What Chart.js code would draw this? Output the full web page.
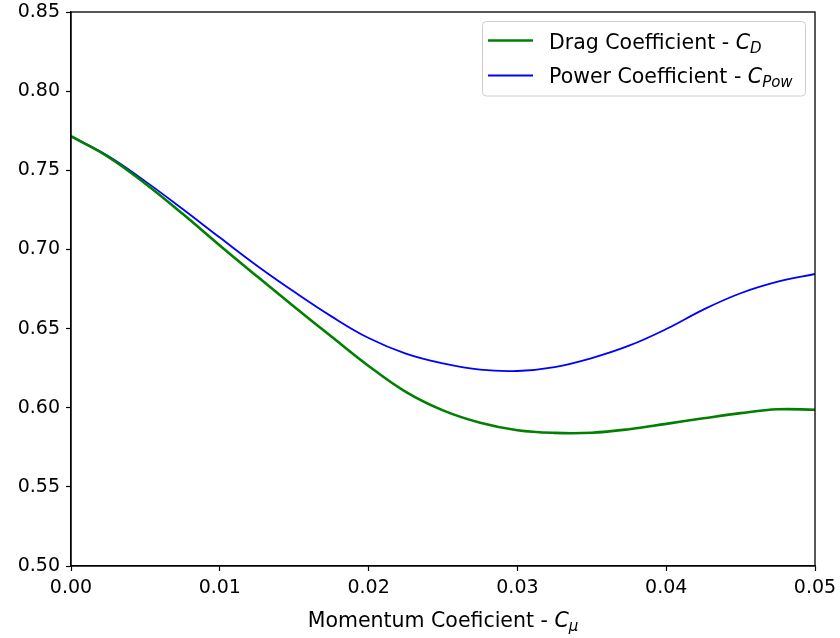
<!DOCTYPE html>
<html>
<head>
<meta charset="utf-8">
<script src="https://cdn.jsdelivr.net/npm/chart.js@4"></script>
<style>
  html, body { margin: 0; padding: 0; background: #fff; }
  #wrap { width: 840px; height: 638px; }
</style>
</head>
<body>
<div id="wrap"><canvas id="chart" width="840" height="638"></canvas></div>
<script>
// momentum coefficient samples
const cmu = [0, 0.0025, 0.005, 0.0075, 0.01, 0.0125, 0.015, 0.0175, 0.02, 0.0225,
	0.025, 0.0275, 0.03, 0.0325, 0.035, 0.0375, 0.04, 0.0425, 0.045, 0.0475, 0.05];
// drag coefficient C_D
const dragCoef = [0.7715, 0.7585, 0.7415, 0.7225, 0.7025, 0.6830, 0.6638, 0.6450, 0.6264, 0.6100,
	0.5983, 0.5905, 0.5858, 0.5841, 0.5842, 0.5864, 0.5898, 0.5933, 0.5966, 0.5990, 0.5987];
// power coefficient C_Pow
const powCoef = [0.7715, 0.7590, 0.7430, 0.7255, 0.7075, 0.6897, 0.6732, 0.6577, 0.6440, 0.6342,
	0.6280, 0.6240, 0.6232, 0.6257, 0.6314, 0.6392, 0.6497, 0.6620, 0.6723, 0.6796, 0.6845];

const xTicks = [0, 0.01, 0.02, 0.03, 0.04, 0.05];
const yTicks = [0.50, 0.55, 0.60, 0.65, 0.70, 0.75, 0.80, 0.85];

const FONT = "DejaVu Sans";
const FS = 19;     // tick labels
const LFS = 20.5;  // legend and axis title

function toPoints(ys) {
	return cmu.map((x, i) => ({ x: x, y: ys[i] }));
}

// draws "main C_sub" with italic C and subscript, returns end x
function drawSubText(ctx, x, y, main, sub) {
	ctx.font = LFS + "px '" + FONT + "'";
	ctx.fillText(main, x, y);
	x += ctx.measureText(main).width;
	ctx.font = "italic " + LFS + "px '" + FONT + "'";
	ctx.fillText("C", x, y);
	x += ctx.measureText("C").width;
	ctx.font = "italic " + Math.round(LFS * 0.72) + "px '" + FONT + "'";
	ctx.fillText(sub, x, y + 4);
	return x + ctx.measureText(sub).width;
}

function subTextWidth(ctx, main, sub) {
	ctx.font = LFS + "px '" + FONT + "'";
	let w = ctx.measureText(main).width;
	ctx.font = "italic " + LFS + "px '" + FONT + "'";
	w += ctx.measureText("C").width;
	ctx.font = "italic " + Math.round(LFS * 0.72) + "px '" + FONT + "'";
	return w + ctx.measureText(sub).width;
}

const decorations = {
	id: "decorations",
	afterDraw(chart) {
		const ctx = chart.ctx;
		const a = chart.chartArea;
		ctx.save();

		// full frame around plot
		ctx.strokeStyle = "#000";
		ctx.lineWidth = 1.3;
		ctx.strokeRect(a.left, a.top, a.right - a.left, a.bottom - a.top);

		// legend box
		const lx = 482.5, ly = 21.5, lw = 323, lh = 74.5;
		ctx.fillStyle = "rgba(255,255,255,0.8)";
		ctx.strokeStyle = "#cccccc";
		ctx.lineWidth = 1;
		ctx.beginPath();
		ctx.roundRect(lx, ly, lw, lh, 4);
		ctx.fill();
		ctx.stroke();

		ctx.lineWidth = 2.6;
		ctx.strokeStyle = "#008000";
		ctx.beginPath(); ctx.moveTo(488, 40.5); ctx.lineTo(533, 40.5); ctx.stroke();
		ctx.lineWidth = 1.8;
		ctx.strokeStyle = "#0000ff";
		ctx.beginPath(); ctx.moveTo(488, 75.5); ctx.lineTo(533, 75.5); ctx.stroke();

		ctx.fillStyle = "#000";
		ctx.textBaseline = "alphabetic";
		ctx.textAlign = "left";
		drawSubText(ctx, 549, 49, "Drag Coefficient - ", "D");
		drawSubText(ctx, 549, 83, "Power Coefficient - ", "Pow");

		// x axis title
		const tw = subTextWidth(ctx, "Momentum Coeficient - ", "\u03bc");
		drawSubText(ctx, (a.left + a.right) / 2 - tw / 2, 627, "Momentum Coeficient - ", "\u03bc");

		ctx.restore();
	}
};

new Chart(document.getElementById("chart"), {
	type: "line",
	data: {
		datasets: [
			{
				label: "Drag Coefficient",
				data: toPoints(dragCoef),
				borderColor: "#008000",
				borderWidth: 2.6,
				pointRadius: 0,
				tension: 0.4,
				fill: false
			},
			{
				label: "Power Coefficient",
				data: toPoints(powCoef),
				borderColor: "#0000ff",
				borderWidth: 1.8,
				pointRadius: 0,
				tension: 0.4,
				fill: false
			}
		]
	},
	options: {
		responsive: false,
		animation: false,
		events: [],
		layout: { padding: { left: 0, right: 25, top: 12, bottom: 0 } },
		plugins: {
			legend: { display: false },
			tooltip: { enabled: false }
		},
		scales: {
			x: {
				type: "linear",
				min: 0,
				max: 0.05,
				afterFit: s => { s.height = 72; s.paddingLeft = 0; s.paddingRight = 0; },
				afterBuildTicks: s => { s.ticks = xTicks.map(v => ({ value: v })); },
				grid: { drawOnChartArea: false, drawTicks: true, tickLength: 5, color: "#000", tickWidth: 1.2 },
				border: { display: true, color: "#000", width: 1.3 },
				ticks: {
					color: "#000",
					padding: 6,
					maxRotation: 0,
					font: { family: FONT, size: FS },
					callback: v => v.toFixed(2)
				}
			},
			y: {
				min: 0.5,
				max: 0.85,
				afterFit: s => { s.width = 71; s.paddingTop = 0; s.paddingBottom = 0; },
				afterBuildTicks: s => { s.ticks = yTicks.map(v => ({ value: v })); },
				grid: { drawOnChartArea: false, drawTicks: true, tickLength: 5, color: "#000", tickWidth: 1.2 },
				border: { display: true, color: "#000", width: 1.3 },
				ticks: {
					color: "#000",
					padding: 6,
					font: { family: FONT, size: FS },
					callback: v => v.toFixed(2)
				}
			}
		}
	},
	plugins: [decorations]
});
</script>
</body>
</html>
